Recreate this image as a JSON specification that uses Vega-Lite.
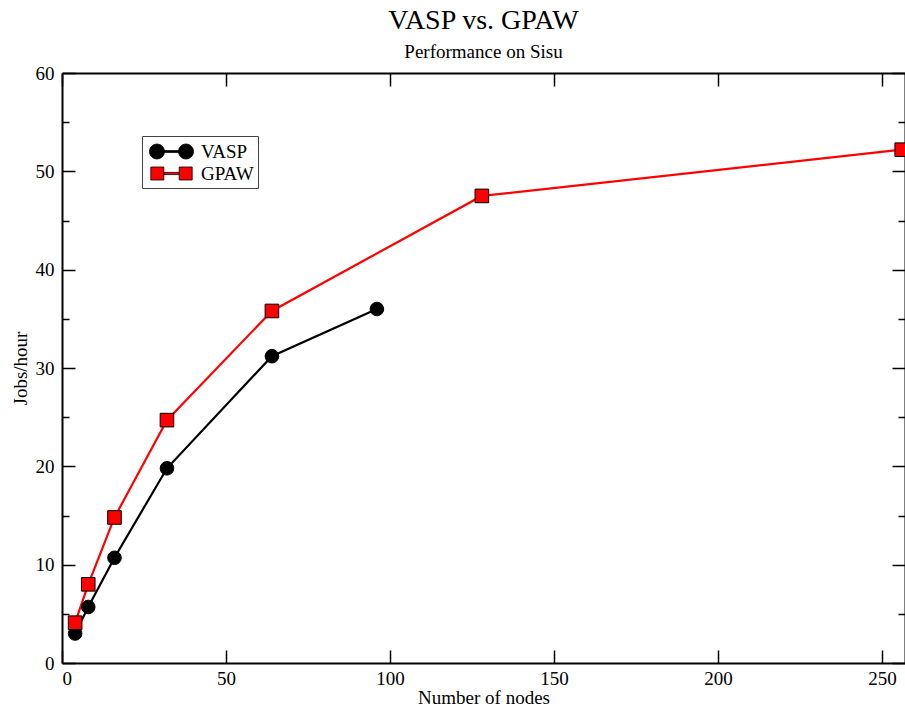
{
  "$schema": "https://vega.github.io/schema/vega-lite/v6.json",
  "width": 843,
  "height": 590,
  "autosize": {"type": "none"},
  "padding": {"left": 62, "top": 73, "right": 0, "bottom": 45},
  "background": "white",
  "title": {
    "text": "VASP vs. GPAW",
    "subtitle": "Performance on Sisu",
    "anchor": "middle",
    "frame": "group",
    "font": "Liberation Serif",
    "fontSize": 28,
    "fontWeight": "normal",
    "color": "black",
    "subtitleFont": "Liberation Serif",
    "subtitleFontSize": 19,
    "subtitleColor": "black",
    "offset": 2,
    "subtitlePadding": 8
  },
  "data": {
    "values": [
      {"series": "VASP", "nodes": 4, "jobs": 3.0},
      {"series": "VASP", "nodes": 8, "jobs": 5.7},
      {"series": "VASP", "nodes": 16, "jobs": 10.7},
      {"series": "VASP", "nodes": 32, "jobs": 19.8},
      {"series": "VASP", "nodes": 64, "jobs": 31.2},
      {"series": "VASP", "nodes": 96, "jobs": 36.0},
      {"series": "GPAW", "nodes": 4, "jobs": 4.1},
      {"series": "GPAW", "nodes": 8, "jobs": 8.0},
      {"series": "GPAW", "nodes": 16, "jobs": 14.8},
      {"series": "GPAW", "nodes": 32, "jobs": 24.7},
      {"series": "GPAW", "nodes": 64, "jobs": 35.8},
      {"series": "GPAW", "nodes": 128, "jobs": 47.5},
      {"series": "GPAW", "nodes": 256, "jobs": 52.2}
    ]
  },
  "layer": [
    {
      "mark": {"type": "line", "strokeWidth": 2.2},
      "encoding": {
        "x": {
          "field": "nodes", "type": "quantitative",
          "scale": {"domain": [0, 257], "nice": false, "zero": false},
          "axis": {
            "orient": "bottom",
            "title": "Number of nodes",
            "values": [0, 50, 100, 150, 200, 250],
            "tickSize": -13,
            "labelPadding": 19,
            "titlePadding": 0
          }
        },
        "y": {
          "field": "jobs", "type": "quantitative",
          "scale": {"domain": [0, 60], "nice": false},
          "axis": {
            "orient": "left",
            "title": "Jobs/hour",
            "values": [0, 5, 10, 15, 20, 25, 30, 35, 40, 45, 50, 55, 60],
            "labelExpr": "datum.value % 10 === 0 ? datum.label : ''",
            "tickSize": {"condition": {"test": "datum.value % 10 === 0", "value": -13}, "value": -7},
            "labelPadding": 21,
            "titlePadding": 5
          }
        },
        "stroke": {
          "field": "series", "type": "nominal",
          "scale": {"domain": ["VASP", "GPAW"], "range": ["black", "#ff0000"]},
          "legend": {
            "orient": "top-left",
            "offset": 63,
            "title": null,
            "padding": 4,
            "rowPadding": 0,
            "symbolSize": 484,
            "symbolOpacity": 0,
            "symbolStrokeWidth": 0,
            "labelExpr": "''",
            "labelFontSize": 19
          }
        }
      }
    },
    {
      "mark": {"type": "point", "filled": true, "opacity": 1, "stroke": "black", "strokeWidth": 1, "size": 185},
      "encoding": {
        "x": {
          "field": "nodes", "type": "quantitative",
          "axis": {
            "orient": "top",
            "title": null,
            "labels": false,
            "values": [0, 50, 100, 150, 200, 250],
            "tickSize": -13
          }
        },
        "y": {
          "field": "jobs", "type": "quantitative",
          "axis": {
            "orient": "right",
            "title": null,
            "labels": false,
            "values": [0, 5, 10, 15, 20, 25, 30, 35, 40, 45, 50, 55, 60],
            "tickSize": {"condition": {"test": "datum.value % 10 === 0", "value": -13}, "value": -7}
          }
        },
        "fill": {
          "field": "series", "type": "nominal",
          "scale": {"domain": ["VASP", "GPAW"], "range": ["black", "#ff0000"]},
          "legend": {
            "orient": "none",
            "legendX": 80,
            "legendY": 63,
            "title": null,
            "padding": 4,
            "rowPadding": 0,
            "symbolSize": 484,
            "symbolStrokeColor": "black",
            "symbolStrokeWidth": 0.8,
            "symbolOffset": 14,
            "labelOffset": 18,
            "labelFont": "Liberation Serif",
            "labelFontSize": 19,
            "labelColor": "black",
            "strokeColor": "#444444",
            "encoding": {
              "symbols": {
                "shape": {"value": {"expr": "datum.value === 'VASP' ? 'M-2,0A0.68,0.68,0,1,1,-0.64,0A0.68,0.68,0,1,1,-2,0ZM0.64,0A0.68,0.68,0,1,1,2,0A0.68,0.68,0,1,1,0.64,0ZM-0.66,-0.08H0.66V0.08H-0.66Z' : 'M-1.88,-0.59H-0.7V0.59H-1.88ZM0.7,-0.59H1.88V0.59H0.7ZM-0.7,-0.1H0.7V0.1H-0.7Z'"}},
                "size": {"value": 484},
                "stroke": {"value": "black"},
                "strokeWidth": {"value": 0.8}
              }
            }
          }
        },
        "shape": {
          "field": "series", "type": "nominal",
          "scale": {"domain": ["VASP", "GPAW"], "range": ["circle", "square"]},
          "legend": null
        }
      }
    }
  ],
  "resolve": {"axis": {"x": "independent", "y": "independent"}},
  "config": {
    "view": {"stroke": null},
    "font": "Liberation Serif",
    "axis": {
      "grid": false,
      "domainColor": "black",
      "domainWidth": 2,
      "tickColor": "black",
      "tickWidth": 1.5,
      "labelColor": "black",
      "labelFont": "Liberation Serif",
      "labelFontSize": 19,
      "titleColor": "black",
      "titleFont": "Liberation Serif",
      "titleFontSize": 19,
      "titleFontWeight": "normal"
    }
  }
}
